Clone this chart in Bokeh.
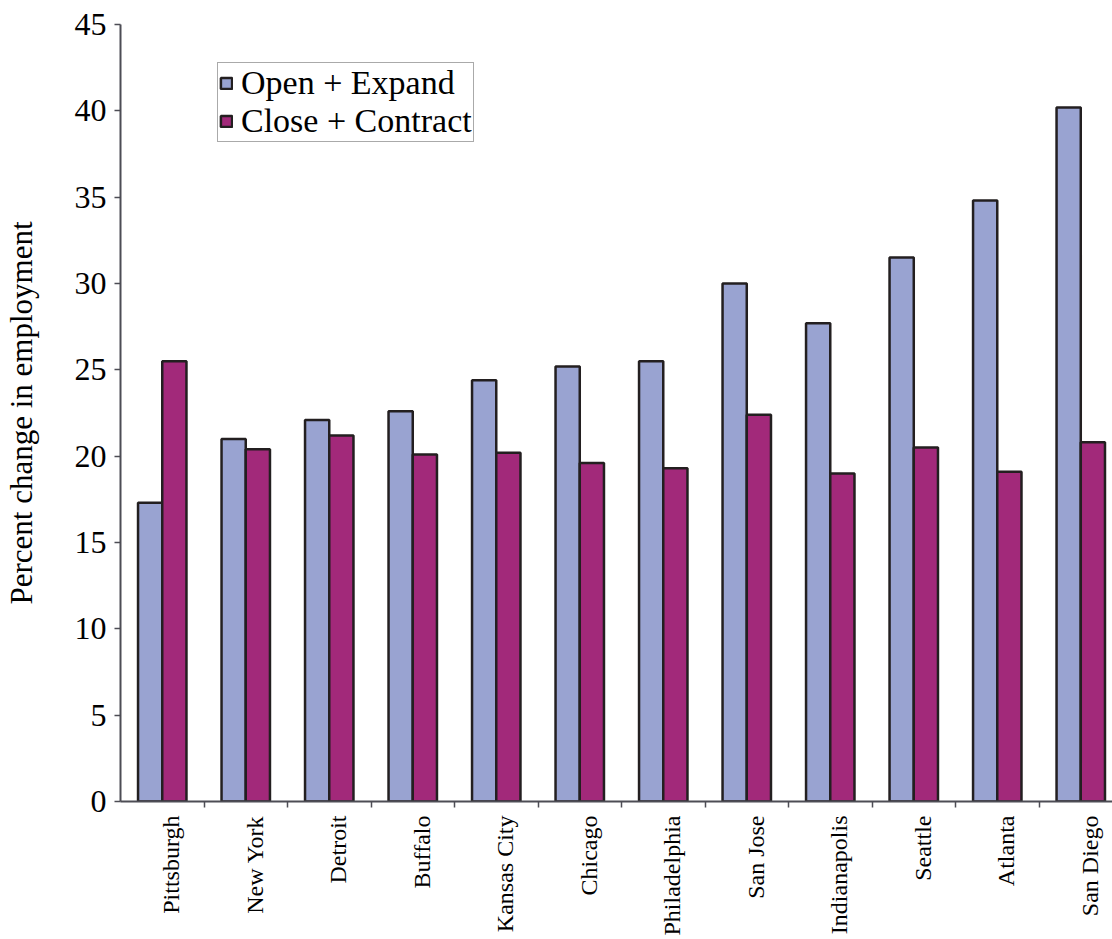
import math
from bokeh.plotting import figure
from bokeh.models import ColumnDataSource, FixedTicker, LinearAxis, Range1d, Legend, LegendItem
from bokeh.embed import file_html
from bokeh.resources import INLINE

cities = ["Pittsburgh", "New York", "Detroit", "Buffalo", "Kansas City", "Chicago",
          "Philadelphia", "San Jose", "Indianapolis", "Seattle", "Atlanta", "San Diego"]
open_expand = [17.3, 21.0, 22.1, 22.6, 24.4, 25.2, 25.5, 30.0, 27.7, 31.5, 34.8, 40.2]
close_contract = [25.5, 20.4, 21.2, 20.1, 20.2, 19.6, 19.3, 22.4, 19.0, 20.5, 19.1, 20.8]
y_ticks = [0, 5, 10, 15, 20, 25, 30, 35, 40, 45]

FONT = "Liberation Serif"
C_OPEN = "#99A3D1"
C_CLOSE = "#A2297A"
EDGE = "#231F20"
AXIS = "#4D4D55"

bw = 0.29
centers = [i + 0.5 for i in range(len(cities))]
src = ColumnDataSource(dict(
    x_open=[c - bw / 2 for c in centers],
    x_close=[c + bw / 2 for c in centers],
    open=open_expand,
    close=close_contract,
))

p = figure(width=1112, height=939, output_backend="svg", toolbar_location=None,
           x_range=Range1d(0, 11.88), y_range=Range1d(0, 45),
           min_border_left=119, min_border_right=0, min_border_top=24, min_border_bottom=138)
p.outline_line_color = None
p.xgrid.grid_line_color = None
p.ygrid.grid_line_color = None
p.background_fill_color = "white"
p.border_fill_color = "white"

r_open = p.vbar(x="x_open", top="open", bottom=0, width=bw, source=src,
                fill_color=C_OPEN, line_color=EDGE, line_width=2.5)
r_close = p.vbar(x="x_close", top="close", bottom=0, width=bw, source=src,
                 fill_color=C_CLOSE, line_color=EDGE, line_width=2.5)

# y axis
ya = p.yaxis[0]
ya.ticker = FixedTicker(ticks=y_ticks)
ya.minor_tick_line_color = None
ya.major_tick_in = 0
ya.major_tick_out = 6
ya.axis_line_color = AXIS
ya.axis_line_width = 2
ya.major_tick_line_color = AXIS
ya.major_tick_line_width = 1.5
ya.major_label_text_font = FONT
ya.major_label_text_font_size = "32px"
ya.major_label_text_color = "black"
ya.major_label_standoff = 8
ya.axis_label = "Percent change in employment"
ya.axis_label_text_font = FONT
ya.axis_label_text_font_style = "normal"
ya.axis_label_text_font_size = "31px"
ya.axis_label_text_color = "black"
ya.axis_label_standoff = 33

# x axis: boundary ticks (no labels)
boundaries = [i for i in range(1, len(cities))]
xa = p.xaxis[0]
xa.ticker = FixedTicker(ticks=boundaries)
xa.major_label_overrides = {b: "" for b in boundaries}
xa.minor_tick_line_color = None
xa.major_tick_in = 0
xa.major_tick_out = 6
xa.axis_line_color = AXIS
xa.axis_line_width = 2
xa.major_tick_line_color = AXIS
xa.major_tick_line_width = 1.5
xa.major_label_text_font_size = "1px"
xa.major_label_standoff = 0

# x axis: category labels
label_pos = [round(i + 0.61, 2) for i in range(len(cities))]
xb = LinearAxis(ticker=FixedTicker(ticks=label_pos),
                major_label_overrides={lp: c for lp, c in zip(label_pos, cities)})
xb.axis_line_color = None
xb.major_tick_line_color = None
xb.minor_tick_line_color = None
xb.major_label_orientation = math.pi / 2
xb.major_label_text_font = FONT
xb.major_label_text_font_size = "24px"
xb.major_label_text_color = "black"
xb.major_label_standoff = 2
p.add_layout(xb, "below")

legend = Legend(items=[LegendItem(label="Open + Expand", renderers=[r_open]),
                       LegendItem(label="Close + Contract", renderers=[r_close])],
                location=(97, 659))
legend.label_text_font = FONT
legend.label_text_font_size = "34px"
legend.label_text_color = "black"
legend.glyph_width = 14
legend.glyph_height = 14
legend.label_standoff = 8
legend.padding = 1
legend.spacing = 0
legend.margin = 0
legend.border_line_color = "#555555"
legend.border_line_width = 1.5
legend.background_fill_alpha = 1
p.add_layout(legend, "center")

open("out.html", "w").write(file_html(p, INLINE))
